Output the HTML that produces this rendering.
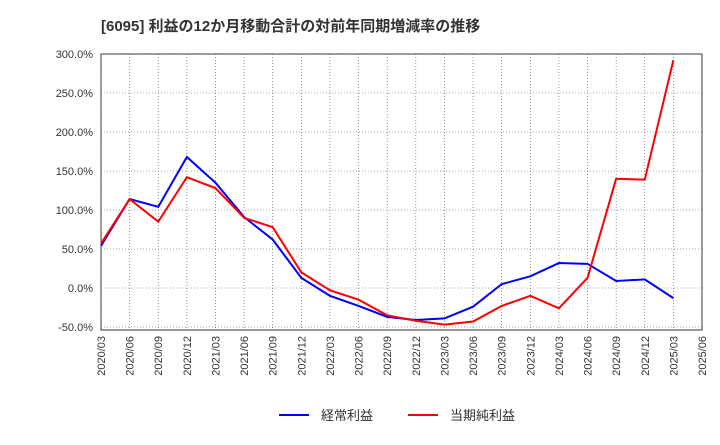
<!DOCTYPE html>
<html><head><meta charset="utf-8"><style>
body{margin:0;background:#fff;font-family:"Liberation Sans","Noto Sans CJK JP",sans-serif;}
svg text{font-family:"Liberation Sans","Noto Sans CJK JP",sans-serif;}
</style></head><body>
<svg id="chart" width="720" height="440" xmlns="http://www.w3.org/2000/svg">
<text x="101" y="31" font-size="15" font-weight="bold" fill="#333">[6095]  利益の12か月移動合計の対前年同期増減率の推移</text>
<rect x="101" y="54" width="601" height="276" fill="#fff" stroke="#333" stroke-width="1"/>
<g id="grid"></g><g id="yaxis"></g><g id="xaxis"></g><g id="series"></g>
<g>
<line x1="279" y1="415" x2="309" y2="415" stroke="#0000ff" stroke-width="2"/>
<text x="321" y="420" font-size="13" fill="#333">経常利益</text>
<line x1="408" y1="415" x2="438" y2="415" stroke="#ff0000" stroke-width="2"/>
<text x="450" y="420" font-size="13" fill="#333">当期純利益</text>
</g>
</svg>
<script>
const xLabels=["2020/03","2020/06","2020/09","2020/12","2021/03","2021/06","2021/09","2021/12","2022/03","2022/06","2022/09","2022/12","2023/03","2023/06","2023/09","2023/12","2024/03","2024/06","2024/09","2024/12","2025/03","2025/06"];
const yTicks=[-50,0,50,100,150,200,250,300];
const ordinary=[54,114,104,168,135,91,62,13,-10,-23,-37,-41,-39,-24,5,15,32,31,9,11,-13];
const netIncome=[57,114,85,142,128,90,78,20,-3,-15,-35,-42,-47,-43,-23,-10,-26,13,140,139,292];
const NS="http://www.w3.org/2000/svg";
const X0=101,X1=702;
function xs(i){return X0+(X1-X0)*i/(xLabels.length-1);}
function ys(v){return 288-v*39/50;}
function mk(tag,attrs,parent){const e=document.createElementNS(NS,tag);for(const k in attrs)e.setAttribute(k,attrs[k]);document.getElementById(parent).appendChild(e);return e;}
yTicks.forEach(v=>{
 const g=mk('line',{x1:X0,x2:X1,y1:ys(v),y2:ys(v),stroke:'#555','stroke-width':0.6,'stroke-dasharray':'1,2'},'grid');
 
 
 const t=mk('text',{x:X0-8,y:ys(v)+4,'font-size':11,'text-anchor':'end',fill:'#333'},'yaxis');
 t.textContent=v.toFixed(1)+'%';
 
 
});
xLabels.forEach((l,i)=>{
 const g=mk('line',{x1:xs(i),x2:xs(i),y1:54,y2:330,stroke:'#555','stroke-width':0.6,'stroke-dasharray':'1,2'},'grid');
 
 
 const t=mk('text',{x:0,y:0,'font-size':11,'text-anchor':'end',fill:'#333',transform:`translate(${xs(i)+4},336) rotate(-90)`},'xaxis');
 t.textContent=l;
 
 
});
function line(arr,color,name){
 const p=mk('polyline',{points:arr.map((v,i)=>xs(i)+','+ys(v)).join(' '),fill:'none',stroke:color,'stroke-width':2},'series');
 
 
}
line(ordinary,'#0000ff','ordinary-profit-line');
line(netIncome,'#ff0000','net-income-line');
</script>
</body></html>
